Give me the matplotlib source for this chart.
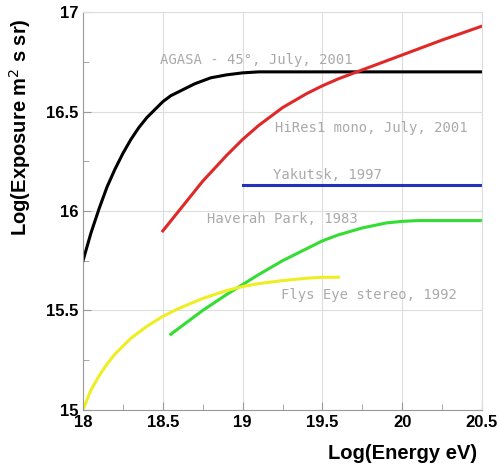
import matplotlib.pyplot as plt

# AGASA - 45 deg
agasa_x = [18.0, 18.05, 18.1, 18.15, 18.2, 18.25, 18.3, 18.35, 18.4, 18.45, 18.5, 18.55,
           18.6, 18.7, 18.8, 18.9, 19.0, 19.1, 19.2, 20.5]
agasa_y = [15.75, 15.89, 16.01, 16.12, 16.21, 16.29, 16.36, 16.42, 16.47, 16.51, 16.55, 16.58,
           16.60, 16.64, 16.67, 16.685, 16.695, 16.70, 16.70, 16.70]

# HiRes1 mono
hires_x = [18.5, 18.6, 18.75, 18.9, 19.0, 19.1, 19.25, 19.4, 19.5, 19.6, 19.75, 19.9, 20.0,
           20.25, 20.5]
hires_y = [15.9, 16.0, 16.15, 16.28, 16.36, 16.43, 16.52, 16.59, 16.63, 16.665, 16.71, 16.755,
           16.785, 16.86, 16.93]

# Yakutsk
yak_x = [19.0, 20.5]
yak_y = [16.13, 16.13]

# Haverah Park
hp_x = [18.55, 18.65, 18.75, 18.9, 19.0, 19.1, 19.25, 19.4, 19.5, 19.6, 19.75, 19.9, 20.0,
        20.1, 20.2, 20.5]
hp_y = [15.38, 15.44, 15.50, 15.58, 15.63, 15.68, 15.75, 15.81, 15.85, 15.88, 15.915, 15.94,
        15.948, 15.952, 15.952, 15.952]

# Fly's Eye stereo
fe_x = [18.0, 18.05, 18.1, 18.15, 18.2, 18.25, 18.3, 18.4, 18.5, 18.6, 18.75, 18.9, 19.0,
        19.1, 19.25, 19.4, 19.5, 19.6]
fe_y = [15.0, 15.1, 15.17, 15.23, 15.28, 15.32, 15.36, 15.42, 15.47, 15.51, 15.56, 15.60,
        15.62, 15.635, 15.65, 15.662, 15.667, 15.667]

xticks = [18, 18.5, 19, 19.5, 20, 20.5]
xtick_labels = ["18", "18.5", "19", "19.5", "20", "20.5"]
yticks = [15, 15.5, 16, 16.5, 17]
ytick_labels = ["15", "15.5", "16", "16.5", "17"]

labels = ["AGASA - 45°, July, 2001", "HiRes1 mono, July, 2001", "Yakutsk, 1997",
          "Haverah Park, 1983", "Flys Eye stereo, 1992"]
label_pos = [(18.48, 16.76), (19.2, 16.42), (19.19, 16.18), (18.78, 15.96), (19.24, 15.58)]

fig = plt.figure(figsize=(5, 4.7), dpi=100)
ax = fig.add_axes([0.166, 0.128, 0.798, 0.846])

ax.plot(agasa_x, agasa_y, color="black", lw=2.2)
ax.plot(hires_x, hires_y, color="#e02828", lw=2.2)
ax.plot(yak_x, yak_y, color="#2233bb", lw=2.2)
ax.plot(hp_x, hp_y, color="#33dd33", lw=2.2)
ax.plot(fe_x, fe_y, color="#eeee22", lw=2.2)

for txt, (x, y) in zip(labels, label_pos):
    ax.text(x, y, txt, color="#aaaaaa", fontsize=10, va="center", ha="left",
            family="DejaVu Sans Mono")

ax.set_xlim(18, 20.5)
ax.set_ylim(15, 17)
ax.set_xticks(xticks)
ax.set_xticklabels(xtick_labels)
ax.set_yticks(yticks)
ax.set_yticklabels(ytick_labels)
ax.set_xticks([18.25, 18.75, 19.25, 19.75, 20.25], minor=True)
ax.set_yticks([15.25, 15.75, 16.25, 16.75], minor=True)
ax.grid(True, which="major", color="#dddddd", lw=0.8)
ax.tick_params(which="both", direction="in", color="#999999", labelsize=12)
ax.tick_params(which="major", length=6)
ax.tick_params(which="minor", length=4)
for lab in ax.get_xticklabels() + ax.get_yticklabels():
    lab.set_fontweight("bold")
    lab.set_family("Liberation Sans")
for s in ["top", "right"]:
    ax.spines[s].set_color("#dddddd")
for s in ["left", "bottom"]:
    ax.spines[s].set_color("#999999")

ax.set_xlabel("Log(Energy eV)", fontsize=14.5, fontweight="bold", family="Liberation Sans")
ax.set_ylabel("Log(Exposure m$^2$ s sr)", fontsize=14.5, fontweight="bold", family="Liberation Sans")
ax.xaxis.set_label_coords(0.8, -0.085)
ax.yaxis.set_label_coords(-0.125, 0.71)

fig.savefig("out.png")
